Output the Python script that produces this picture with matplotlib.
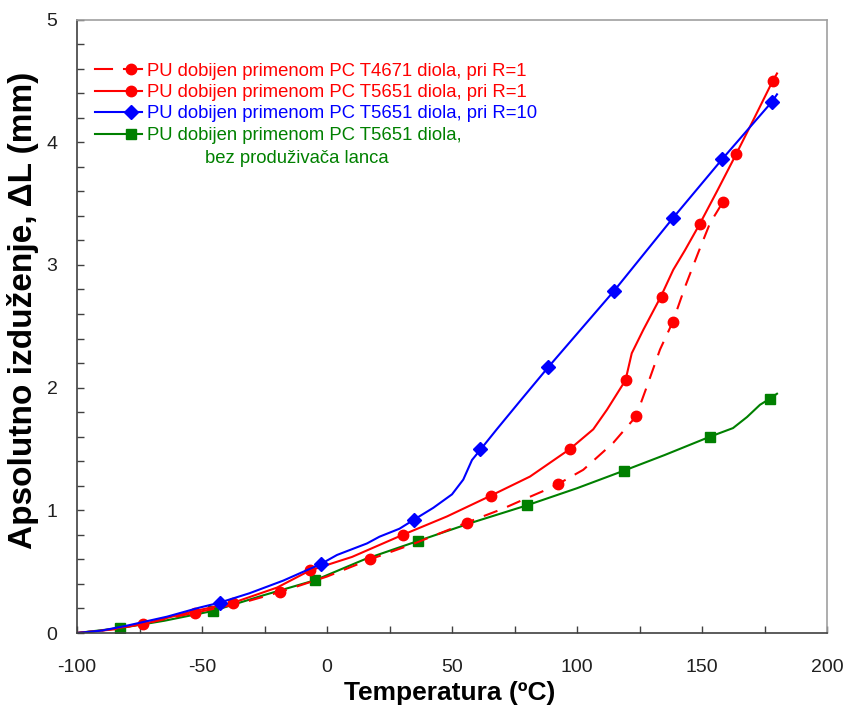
import matplotlib
matplotlib.use("Agg")
import matplotlib.pyplot as plt
from matplotlib.lines import Line2D
from matplotlib.ticker import MultipleLocator

plt.rcParams['font.family'] = ['Liberation Sans', 'DejaVu Sans']
plt.rcParams['axes.unicode_minus'] = False

# PC T4671, R=1 (dashed red)
t4671_T = [-100, -85, -70, -52.8, -35, -18.8, 0, 17.2, 35, 55.9, 70, 80, 88, 92.5,
           102.5, 114.5, 123.6, 128.5, 133.2, 138.3, 143.2, 148.5, 153.2, 158.3]
t4671_L = [0, 0.03, 0.09, 0.166, 0.24, 0.334, 0.46, 0.60, 0.73, 0.90, 1.01, 1.10, 1.17, 1.215,
           1.33, 1.55, 1.765, 2.04, 2.31, 2.535, 2.82, 3.10, 3.34, 3.51]
t4671_mT = [-52.8, -18.8, 17.2, 55.9, 92.5, 123.6, 138.3, 158.3]
t4671_mL = [0.166, 0.334, 0.60, 0.90, 1.215, 1.765, 2.535, 3.51]

# PC T5651, R=1 (solid red)
r1_T = [-100, -90, -73.5, -55, -37.5, -20, -6.8, 10, 30.3, 48, 65.6, 81.2, 97.2, 106.5,
        112, 119.4, 121.9, 126.5, 133.5, 138.5, 143.2, 149, 156, 163.6, 171, 178.3, 180]
r1_L = [0, 0.02, 0.073, 0.17, 0.247, 0.37, 0.51, 0.62, 0.80, 0.95, 1.12, 1.275, 1.50, 1.66,
        1.82, 2.06, 2.28, 2.47, 2.74, 2.96, 3.12, 3.33, 3.60, 3.90, 4.20, 4.50, 4.56]
r1_mT = [-73.5, -37.5, -6.8, 30.3, 65.6, 97.2, 119.6, 133.9, 149, 163.6, 178.3]
r1_mL = [0.073, 0.247, 0.51, 0.80, 1.12, 1.50, 2.06, 2.74, 3.33, 3.90, 4.50]

# PC T5651, R=10 (blue)
r10_T = [-100, -90, -80, -64, -51, -43, -31, -17.5, -2.4, 4, 16, 21, 29, 34.5, 42.5, 50,
         54.5, 58, 61.2, 67.9, 77.2, 88.4, 114.9, 138.3, 158, 178, 180]
r10_L = [0, 0.02, 0.06, 0.133, 0.207, 0.247, 0.324, 0.427, 0.563, 0.636, 0.73, 0.785, 0.85,
         0.92, 1.02, 1.13, 1.25, 1.41, 1.49, 1.66, 1.89, 2.164, 2.79, 3.38, 3.86, 4.33, 4.39]
r10_mT = [-42.8, -2.4, 34.9, 61.2, 88.4, 114.9, 138.3, 158, 177.9]
r10_mL = [0.247, 0.563, 0.92, 1.498, 2.164, 2.79, 3.38, 3.86, 4.33]

# PC T5651, bez produzivaca (green)
bez_T = [-100, -82.8, -65, -45.6, -25, -4.8, 15, 36.4, 58, 79.9, 100, 118.9, 135, 153.2,
         162.4, 168, 173.2, 177.2, 180]
bez_L = [0, 0.04, 0.10, 0.18, 0.31, 0.43, 0.60, 0.75, 0.90, 1.04, 1.18, 1.324, 1.45, 1.60,
         1.67, 1.76, 1.86, 1.91, 1.95]
bez_mT = [-82.8, -45.6, -4.8, 36.4, 79.9, 118.9, 153.2, 177.2]
bez_mL = [0.04, 0.18, 0.43, 0.75, 1.04, 1.324, 1.60, 1.91]

labels = ['PU dobijen primenom PC T4671 diola, pri R=1',
          'PU dobijen primenom PC T5651 diola, pri R=1',
          'PU dobijen primenom PC T5651 diola, pri R=10',
          'PU dobijen primenom PC T5651 diola,',
          'bez produživača lanca']

RED, BLUE, GREEN = '#ff0000', '#0000ff', '#008000'
W, H = 847, 707

fig = plt.figure(figsize=(W / 100, H / 100), dpi=100)
ax = fig.add_axes([77 / W, 1 - 633 / H, 750 / W, 613.5 / H])

lw = 1.5
ax.plot(bez_T, bez_L, '-', color=GREEN, lw=lw)
ax.plot(bez_mT, bez_mL, 's', color=GREEN, ms=6.5, ls='none')
ax.plot(t4671_T, t4671_L, '-', color=RED, lw=lw, dashes=(7, 5))
ax.plot(t4671_mT, t4671_mL, 'o', color=RED, ms=7.5, ls='none')
ax.plot(r1_T, r1_L, '-', color=RED, lw=lw)
ax.plot(r1_mT, r1_mL, 'o', color=RED, ms=7.5, ls='none')
ax.plot(r10_T, r10_L, '-', color=BLUE, lw=lw)
ax.plot(r10_mT, r10_mL, 'D', color=BLUE, ms=7.5, ls='none')

ax.set_xlim(-100, 200)
ax.set_ylim(0, 5)
ax.xaxis.set_major_locator(MultipleLocator(50))
ax.xaxis.set_minor_locator(MultipleLocator(25))
ax.yaxis.set_major_locator(MultipleLocator(1))
ax.yaxis.set_minor_locator(MultipleLocator(0.2))
ax.tick_params(which='both', direction='in', length=5, width=1, color='#404040',
               labelsize=14, labelcolor='#202020')
ax.tick_params(axis='x', pad=19)
ax.tick_params(axis='y', pad=14)
for s in ['left', 'bottom']:
    ax.spines[s].set_color('#404040')
    ax.spines[s].set_linewidth(1.2)
for s in ['top', 'right']:
    ax.spines[s].set_color('#a0a0a0')
    ax.spines[s].set_linewidth(1.2)

fig.text(450 / W, 1 - 700 / H, 'Temperatura (ºC)', fontsize=19, fontweight='bold',
         ha='center', va='baseline')
fig.text(23 / W, 1 - 310 / H, 'Apsolutno izduženje, ΔL (mm)', fontsize=24,
         fontweight='bold', rotation=90, ha='center', va='center')

# legend drawn by hand (marker sits at the right end of the sample line)
rows_y = [69, 90.5, 112, 133.5]
colors = [RED, RED, BLUE, GREEN]
markers = ['o', 'o', 'D', 's']
msizes = [7.5, 7.5, 7.5, 6.5]
for i in range(4):
    fy = 1 - rows_y[i] / H
    if i == 0:
        fig.add_artist(Line2D([95 / W, 112 / W], [fy, fy], color=RED, lw=lw))
        fig.add_artist(Line2D([124 / W, 142 / W], [fy, fy], color=RED, lw=lw))
    else:
        fig.add_artist(Line2D([95 / W, 142 / W], [fy, fy], color=colors[i], lw=lw))
    fig.add_artist(Line2D([131 / W], [fy], color=colors[i], marker=markers[i],
                          ms=msizes[i], ls='none'))
    fig.text(147 / W, fy, labels[i], color=colors[i], fontsize=13.3,
             ha='left', va='center_baseline')
fig.text(205 / W, 1 - 156.5 / H, labels[4], color=GREEN, fontsize=13.3,
         ha='left', va='center_baseline')

fig.savefig('out.png', dpi=100)
